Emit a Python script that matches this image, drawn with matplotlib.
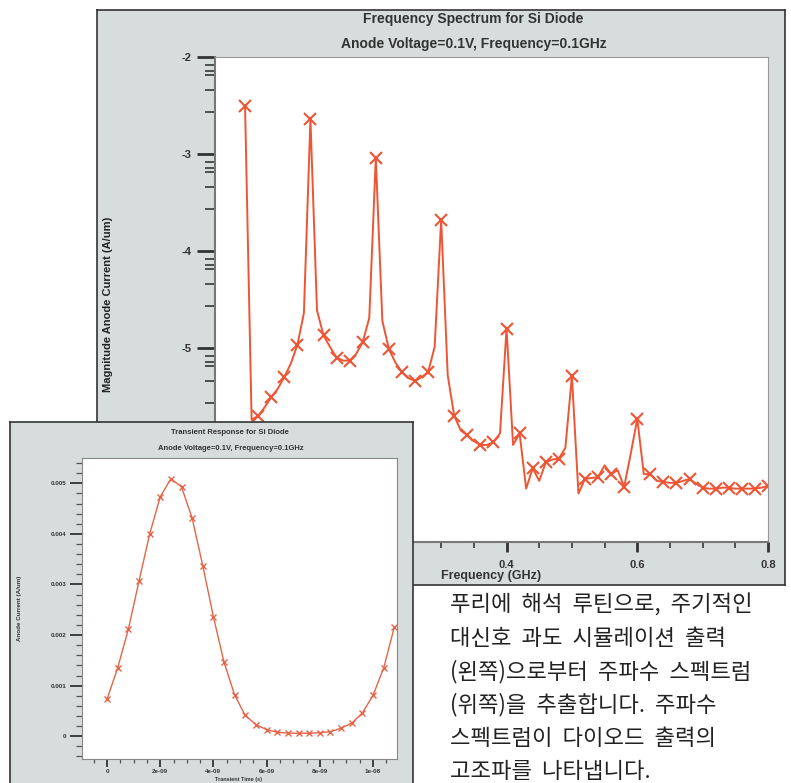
import numpy as np
import matplotlib
matplotlib.use("Agg")
import matplotlib.pyplot as plt
from matplotlib.ticker import FixedLocator, MultipleLocator, FixedFormatter

# --------------------------------------------------------------------------- #
# Data
# --------------------------------------------------------------------------- #
# Frequency spectrum, sampled every 0.01 GHz (markers on every other sample)
freq_ghz = [
    0.00, 0.01, 0.02, 0.03, 0.04, 0.05, 0.06, 0.07, 0.08, 0.09,
    0.10, 0.11, 0.12, 0.13, 0.14, 0.15, 0.16, 0.17, 0.18, 0.19,
    0.20, 0.21, 0.22, 0.23, 0.24, 0.25, 0.26, 0.27, 0.28, 0.29,
    0.30, 0.31, 0.32, 0.33, 0.34, 0.35, 0.36, 0.37, 0.38, 0.39,
    0.40, 0.41, 0.42, 0.43, 0.44, 0.45, 0.46, 0.47, 0.48, 0.49,
    0.50, 0.51, 0.52, 0.53, 0.54, 0.55, 0.56, 0.57, 0.58, 0.59,
    0.60, 0.61, 0.62, 0.63, 0.64, 0.65, 0.66, 0.67, 0.68, 0.69,
    0.70, 0.71, 0.72, 0.73, 0.74, 0.75, 0.76, 0.77, 0.78, 0.79,
    0.80,
]
log_mag = [
    -2.51, -5.74, -5.70, -5.61, -5.51, -5.42, -5.30, -5.16, -4.97, -4.64,
    -2.64, -4.61, -4.87, -4.99, -5.10, -5.13, -5.13, -5.06, -4.94, -4.69,
    -3.04, -4.72, -5.01, -5.15, -5.25, -5.31, -5.34, -5.30, -5.25, -4.99,
    -3.68, -5.28, -5.70, -5.85, -5.90, -5.96, -6.00, -6.00, -5.97, -5.88,
    -4.80, -6.00, -5.88, -6.45, -6.24, -6.37, -6.18, -6.15, -6.14, -6.03,
    -5.29, -6.50, -6.35, -6.34, -6.33, -6.21, -6.30, -6.26, -6.43, -6.09,
    -5.73, -6.30, -6.30, -6.37, -6.38, -6.39, -6.39, -6.37, -6.35, -6.40,
    -6.44, -6.45, -6.45, -6.44, -6.44, -6.45, -6.45, -6.45, -6.45, -6.44,
    -6.42,
]

# Transient response (inset), time in ns
time_ns = [
    0.0, 0.4, 0.8, 1.2, 1.6, 2.0, 2.4, 2.8, 3.2, 3.6,
    4.0, 4.4, 4.8, 5.2, 5.6, 6.0, 6.4, 6.8, 7.2, 7.6,
    8.0, 8.4, 8.8, 9.2, 9.6, 10.0, 10.4, 10.8,
]
anode_current = [
    0.00073, 0.00135, 0.00211, 0.00306, 0.00399, 0.00473, 0.00509, 0.00493,
    0.00431, 0.00337, 0.00236, 0.00146, 0.00081, 0.00041, 0.00023, 0.00013,
    0.00008, 0.00006, 0.00006, 0.00006, 0.00007, 0.00009, 0.00016, 0.00026,
    0.00046, 0.00081, 0.00135, 0.00216,
]

# ticks hidden behind the inset carry no label
main_xticks = [0.0, 0.2, 0.4, 0.6, 0.8]
main_xlabels = ["", "", "0.4", "0.6", "0.8"]
main_yticks = [-7, -6, -5, -4, -3, -2]
main_ylabels = ["", "", "-5", "-4", "-3", "-2"]
inset_xticks = [0, 2e-9, 4e-9, 6e-9, 8e-9, 1e-8]
inset_xlabels = ["0", "2e-09", "4e-09", "6e-09", "8e-09", "1e-08"]
inset_yticks = [0, 0.001, 0.002, 0.003, 0.004, 0.005]
inset_ylabels = ["0", "0.001", "0.002", "0.003", "0.004", "0.005"]

caption = [
    "푸리에  해석  루틴으로,  주기적인",
    "대신호  과도  시뮬레이션  출력",
    "(왼쪽)으로부터  주파수  스펙트럼",
    "(위쪽)을  추출합니다.  주파수",
    "스펙트럼이  다이오드  출력의",
    "고조파를  나타냅니다.",
]

# --------------------------------------------------------------------------- #
# Layout helpers (pixel boxes -> figure fractions)
# --------------------------------------------------------------------------- #
W, H = 791, 783
PANEL = "#d6dddc"
LINE = "#ef5534"
FONT = "Liberation Sans"

fig = plt.figure(figsize=(W / 100, H / 100), dpi=100)
fig.patch.set_facecolor("white")


def px_axes(x0, y0, x1, y1, z):
    return fig.add_axes([x0 / W, 1 - y1 / H, (x1 - x0) / W, (y1 - y0) / H], zorder=z)


def panel(ax):
    ax.set_facecolor(PANEL)
    ax.set_xticks([])
    ax.set_yticks([])
    for s in ax.spines.values():
        s.set_color("#333333")
        s.set_linewidth(1.2)


# --------------------------------------------------------------------------- #
# Main panel: frequency spectrum
# --------------------------------------------------------------------------- #
bg_main = px_axes(97, 10, 785, 585, 0)
panel(bg_main)

ax = px_axes(215, 57, 768, 542, 1)
ax.plot(freq_ghz, log_mag, color=LINE, lw=1.4, marker="x", markevery=2,
        ms=8, mew=1.5)
ax.set_xlim(-0.046, 0.8)
ax.set_ylim(-7.0, -2.0)

ax.xaxis.set_major_locator(FixedLocator(main_xticks))
ax.xaxis.set_major_formatter(FixedFormatter(main_xlabels))
ax.xaxis.set_minor_locator(MultipleLocator(0.05))
ax.yaxis.set_major_locator(FixedLocator(main_yticks))
ax.yaxis.set_major_formatter(FixedFormatter(main_ylabels))
minor_off = [0.085, 0.14, 0.19, 0.34, 0.57]
minor_y = [d - o for d in range(-2, -8, -1) for o in minor_off]
ax.yaxis.set_minor_locator(FixedLocator(minor_y))
for lab in ax.get_xticklabels() + ax.get_yticklabels():
    lab.set_fontsize(8)
    lab.set_fontweight("bold")
    lab.set_family(FONT)
    lab.set_color("#333333")
ax.tick_params(axis="y", which="major", direction="out", length=13, width=2,
               color="#333333", pad=4)
ax.tick_params(axis="y", which="minor", direction="out", length=7, width=1.3,
               color="#444444")
ax.tick_params(axis="x", which="major", direction="out", length=7, width=2,
               color="#333333", pad=6)
ax.tick_params(axis="x", which="minor", direction="out", length=4, width=1.3,
               color="#444444")
for side in ["top", "right"]:
    ax.spines[side].set_color("#999999")
for side in ["left", "bottom"]:
    ax.spines[side].set_color("#777777")
    ax.spines[side].set_linewidth(1.5)

ax.set_xlabel("Frequency (GHz)", fontsize=9, fontweight="bold", family=FONT,
              color="#333333", labelpad=0)
ax.set_ylabel("Magnitude Anode Current (A/um)", fontsize=8, fontweight="bold",
              family=FONT, color="#222222")
ax.yaxis.set_label_coords(-0.185, 0.49)

fig.text(473 / W, 1 - 19 / H, "Frequency Spectrum for Si Diode", ha="center",
         va="center", fontsize=10, fontweight="bold", family=FONT,
         color="#333333")
fig.text(474 / W, 1 - 44 / H, "Anode Voltage=0.1V, Frequency=0.1GHz",
         ha="center", va="center", fontsize=10, fontweight="bold",
         family=FONT, color="#333333")

# --------------------------------------------------------------------------- #
# Inset panel: transient response
# --------------------------------------------------------------------------- #
bg_in = px_axes(10, 422, 413, 800, 2)
panel(bg_in)

ai = px_axes(82, 458, 397, 759, 3)
ai.plot(np.array(time_ns) * 1e-9, anode_current, color="#e66448", lw=1.0,
        marker="x", ms=4, mew=1.0)
ai.set_xlim(-0.94e-9, 10.9e-9)
ai.set_ylim(-0.00045, 0.0055)
ai.xaxis.set_major_locator(FixedLocator(inset_xticks))
ai.xaxis.set_major_formatter(FixedFormatter(inset_xlabels))
ai.xaxis.set_minor_locator(MultipleLocator(0.5e-9))
ai.yaxis.set_major_locator(FixedLocator(inset_yticks))
ai.yaxis.set_major_formatter(FixedFormatter(inset_ylabels))
ai.yaxis.set_minor_locator(MultipleLocator(0.0002))
for lab in ai.get_xticklabels() + ai.get_yticklabels():
    lab.set_fontsize(4.5)
    lab.set_fontweight("bold")
    lab.set_family(FONT)
    lab.set_color("#333333")
ai.tick_params(axis="y", which="major", direction="out", length=9, width=1.3,
               color="#333333", pad=2)
ai.tick_params(axis="y", which="minor", direction="out", length=4, width=0.9,
               color="#555555")
ai.tick_params(axis="x", which="major", direction="out", length=6, width=1.3,
               color="#333333", pad=1)
ai.tick_params(axis="x", which="minor", direction="out", length=3, width=0.9,
               color="#555555")
for s in ai.spines.values():
    s.set_color("#888888")
ai.set_ylabel("Anode Current (A/um)", fontsize=4.5, fontweight="bold",
              family=FONT, color="#333333")
ai.yaxis.set_label_coords(-0.19, 0.5)

fig.text(239 / W, 1 - 779.5 / H, "Transient Time (s)", ha="center",
         va="center", fontsize=4, fontweight="bold", family=FONT,
         color="#333333", zorder=5)
fig.text(230 / W, 1 - 432 / H, "Transient Response for Si Diode",
         ha="center", va="center", fontsize=5.5, fontweight="bold",
         family=FONT, color="#333333", zorder=5)
fig.text(231 / W, 1 - 448 / H, "Anode Voltage=0.1V, Frequency=0.1GHz",
         ha="center", va="center", fontsize=5.5, fontweight="bold",
         family=FONT, color="#333333", zorder=5)

# --------------------------------------------------------------------------- #
# Korean caption
# --------------------------------------------------------------------------- #
for i, line in enumerate(caption):
    fig.text(450 / W, 1 - (605 + 33.3 * i) / H, line, ha="left", va="center",
             fontsize=16, color="#222222",
             family=["Noto Sans CJK KR", "DejaVu Sans"])

fig.savefig("out.png", dpi=100, facecolor="white")
